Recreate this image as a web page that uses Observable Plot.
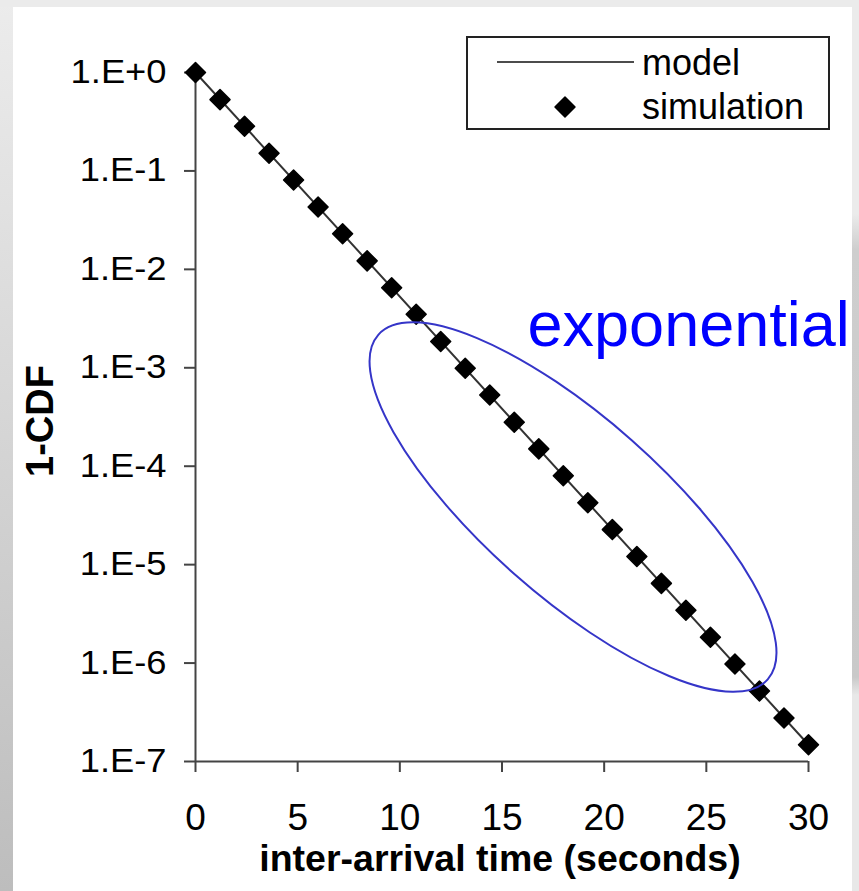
<!DOCTYPE html>
<html>
<head>
<meta charset="utf-8">
<script src="https://cdn.jsdelivr.net/npm/d3@7"></script>
<script src="https://cdn.jsdelivr.net/npm/@observablehq/plot@0.6"></script>
<style>
  html, body { margin: 0; padding: 0; overflow: hidden; background: #fff; }
  #page { position: relative; width: 859px; height: 891px; overflow: hidden;
          background: linear-gradient(to bottom, #ececec 0%, #bdbdbd 100%); }
  #rightstrip { position: absolute; left: 852px; top: 0; width: 7px; height: 891px;
          background: linear-gradient(to bottom, #ebebeb 0%, #ebebeb 24%, #cecece 28%, #c9c9c9 76%, #e8e8e8 78%, #e8e8e8 100%); }
  #topstrip { position: absolute; left: 0; top: 0; width: 859px; height: 7px; background: #ebebeb; }
  #panel { position: absolute; left: 13px; top: 7px; width: 839px; height: 884px; background: #fff; }
  #chart { position: absolute; left: 0; top: 0; }
  #legend { position: absolute; left: 466px; top: 36px; }
</style>
</head>
<body>
<div id="page">
  <div id="rightstrip"></div>
  <div id="topstrip"></div>
  <div id="panel"></div>
  <div id="chart"></div>
  <svg id="legend" width="364" height="94" font-family="'Liberation Sans', Arial, sans-serif"></svg>
</div>
<script>
// ---- data ----
const simTime = [0, 1.2, 2.4, 3.6, 4.8, 6, 7.2, 8.4, 9.6, 10.8, 12, 13.2, 14.4, 15.6, 16.8, 18, 19.2, 20.4, 21.6, 22.8, 24, 25.2, 26.4, 27.6, 28.8, 30];
const simValue = [1, 0.53, 0.284, 0.151, 0.081, 0.043, 0.023, 0.0122, 0.0065, 0.0035, 0.00185, 0.00099, 0.00053, 0.00028, 0.00015, 8.0e-5, 4.25e-5, 2.27e-5, 1.21e-5, 6.45e-6, 3.44e-6, 1.83e-6, 9.8e-7, 5.2e-7, 2.77e-7, 1.48e-7];
const modelTime = [0, 30];
const modelValue = [1, 1.48e-7];
const xTicks = [0, 5, 10, 15, 20, 25, 30];
const yTicks = [1, 1e-1, 1e-2, 1e-3, 1e-4, 1e-5, 1e-6, 1e-7];
const yTickLabels = ["1.E+0", "1.E-1", "1.E-2", "1.E-3", "1.E-4", "1.E-5", "1.E-6", "1.E-7"];
const xTitle = "inter-arrival time (seconds)";
const yTitle = "1-CDF";
const legendLabels = ["model", "simulation"];
const noteText = ["exponential"];
const noteTime = [16.25];
const noteValue = [2.68e-3];
// ellipse annotation: centre in data units
const ellipseTime = 18.5;
const ellipseValue = 3.8e-5;

const simulation = simTime.map((t, i) => ({t, v: simValue[i]}));
const model = modelTime.map((t, i) => ({t, v: modelValue[i]}));
const note = noteText.map((s, i) => ({s, t: noteTime[i], v: noteValue[i]}));

const FONT = "'Liberation Sans', Arial, Helvetica, sans-serif";
const AXIS = "#444";
const DOT_R = 9;

const chart = Plot.plot({
  width: 859,
  height: 891,
  marginLeft: 195,
  marginRight: 51,
  marginTop: 72,
  marginBottom: 130,
  style: { fontFamily: FONT, background: "transparent", color: "#000", overflow: "visible" },
  x: { domain: [0, 30] },
  y: { type: "log", domain: [1e-7, 1] },
  marks: [
    Plot.ruleX([0], { stroke: AXIS, strokeWidth: 2 }),
    Plot.ruleY([1e-7], { stroke: AXIS, strokeWidth: 2 }),
    Plot.axisX(xTicks, { tickSize: 11, tickPadding: 31, fontSize: 37, stroke: AXIS, strokeWidth: 2, label: null, tickFormat: d => String(d) }),
    Plot.axisY(yTicks, { tickSize: 11, tickPadding: 18, fontSize: 33, stroke: AXIS, strokeWidth: 2, label: null,
      tickFormat: d => yTickLabels[yTicks.indexOf(d)] }),
    Plot.text([yTitle], { frameAnchor: "left", textAnchor: "middle", lineAnchor: "middle", dx: -155, dy: 4, rotate: -90, fontSize: 38, fontWeight: "bold", fill: "#000" }),
    Plot.text([xTitle], { frameAnchor: "bottom", textAnchor: "middle", lineAnchor: "middle", dy: 97.6, dx: -2, fontSize: 37.5, fontWeight: "bold", fill: "#000" }),
    Plot.line(model, { x: "t", y: "v", stroke: "#333", strokeWidth: 2 }),
    Plot.dot(simulation, { x: "t", y: "v", symbol: "diamond2", r: DOT_R, fill: "#000", stroke: "#000", strokeWidth: 1.5, strokeLinejoin: "round" }),
    Plot.text(note, { x: "t", y: "v", text: "s", textAnchor: "start", fontSize: 63, fill: "#0000ff" })
  ]
});
document.getElementById("chart").appendChild(chart);

// stretch y tick labels slightly, as in the reference
d3.select(chart).selectAll('g[aria-label="y-axis tick label"] text').each(function () {
  const w = this.getComputedTextLength();
  this.setAttribute("textLength", (w * 1.1).toFixed(1));
  this.setAttribute("lengthAdjust", "spacingAndGlyphs");
});

// ellipse annotation, positioned through the plot's scales
const sx = chart.scale("x"), sy = chart.scale("y");
const ecx = sx.apply(ellipseTime), ecy = sy.apply(ellipseValue);
d3.select(chart).append("ellipse")
  .attr("cx", ecx).attr("cy", ecy)
  .attr("rx", 260).attr("ry", 89)
  .attr("transform", `rotate(41.5 ${ecx} ${ecy})`)
  .attr("fill", "none").attr("stroke", "#3535c8").attr("stroke-width", 2);

// legend
const lg = d3.select("#legend");
lg.append("rect").attr("x", 1).attr("y", 1).attr("width", 362).attr("height", 92)
  .attr("fill", "#fff").attr("stroke", "#222").attr("stroke-width", 2);
lg.append("line").attr("x1", 31).attr("x2", 168).attr("y1", 26).attr("y2", 26)
  .attr("stroke", "#111").attr("stroke-width", 1.5);
lg.append("path").attr("d", d3.symbol(d3.symbolDiamond2, DOT_R * DOT_R * Math.PI)())
  .attr("transform", "translate(99,71)").attr("fill", "#000").attr("stroke", "#000")
  .attr("stroke-width", 1.5).attr("stroke-linejoin", "round");
lg.selectAll("text.lab").data(legendLabels).join("text").attr("class", "lab")
  .attr("x", 176).attr("y", (d, i) => i === 0 ? 39 : 83)
  .attr("font-size", 36).attr("fill", "#000").text(d => d);
</script>
</body>
</html>
